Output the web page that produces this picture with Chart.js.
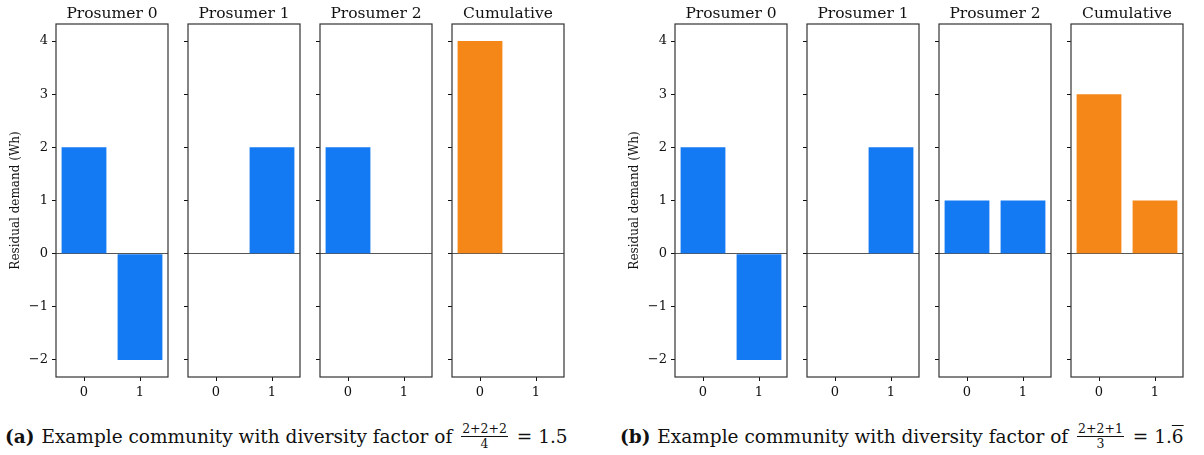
<!DOCTYPE html>
<html>
<head>
<meta charset="utf-8">
<script src="https://cdn.jsdelivr.net/npm/chart.js@4/dist/chart.umd.min.js"></script>
<style>
  body { margin: 0; background: #fff; width: 1204px; height: 455px; position: relative; overflow: hidden; }
  canvas.panel { position: absolute; top: 0; }
  .caption { position: absolute; top: 424px; font-family: "DejaVu Serif", serif; font-size: 18.5px; line-height: 24px; color: #111; white-space: nowrap; }
  .caption b { font-weight: bold; margin-right: 1px; }
  .frac { display: inline-block; vertical-align: middle; text-align: center; font-size: 12.5px; line-height: 13px; margin: 0 3px; position: relative; top: -2px; }
  .frac .num { display: block; border-bottom: 1px solid #111; padding: 0 1px 1px; }
  .frac .den { display: block; }
  .over { text-decoration: overline; }
</style>
</head>
<body>
<div class="caption" style="left:5px"><b>(a)</b> Example community with diversity factor of <span class="frac"><span class="num">2+2+2</span><span class="den">4</span></span> = 1.5</div>
<div class="caption" style="left:620px"><b>(b)</b> Example community with diversity factor of <span class="frac"><span class="num">2+2+1</span><span class="den">3</span></span> = 1.<span class="over">6</span></div>
<script>
/* residual demand per time slot, one array per panel */
const categories = ['0', '1'];
const panelTitles = ['Prosumer 0', 'Prosumer 1', 'Prosumer 2', 'Cumulative'];
const yTicks = [-2, -1, 0, 1, 2, 3, 4];

const aProsumer0 = [2, -2];
const aProsumer1 = [0, 2];
const aProsumer2 = [2, 0];
const aCumulative = [4, 0];

const bProsumer0 = [2, -2];
const bProsumer1 = [0, 2];
const bProsumer2 = [1, 1];
const bCumulative = [3, 1];

const yLabel = 'Residual demand (Wh)';

const BLUE = '#147af3';
const ORANGE = '#f58718';
const SERIF = '"DejaVu Serif", serif';

// layout of the plot boxes, in page pixels
const panelLefts = [[56, 188, 320, 452], [675, 807, 939, 1071]];
const panelW = 112, plotTop = 24, plotBottom = 377, canvasH = 410;

function minusSign(v) { return v < 0 ? '\u2212' + Math.abs(v) : String(v); }

const boxPlugin = {
    id: 'box',
    afterDraw(chart, args, opts) {
        const {ctx, chartArea: a} = chart;
        ctx.save();
        ctx.strokeStyle = '#333';
        ctx.lineWidth = 1.2;
        ctx.strokeRect(a.left, a.top, a.right - a.left, a.bottom - a.top);
        ctx.fillStyle = '#111';
        ctx.font = '15.5px ' + SERIF;
        ctx.textAlign = 'center';
        ctx.textBaseline = 'alphabetic';
        ctx.fillText(opts.text, (a.left + a.right) / 2, a.top - 6);
        ctx.restore();
    }
};

function makePanel(left, values, title, color, first) {
    let axisW = first ? 56 : 40;
    let canvas = document.createElement('canvas');
    canvas.className = 'panel';
    canvas.width = axisW + panelW + 2;
    canvas.height = canvasH;
    canvas.style.left = (left - axisW) + 'px';
    canvas.style.width = canvas.width + 'px';
    canvas.style.height = canvasH + 'px';
    document.body.append(canvas);
    return new Chart(canvas, {
        type: 'bar',
        data: {
            labels: categories,
            datasets: [{
                data: values,
                backgroundColor: color,
                borderWidth: 0,
                barPercentage: 0.8,
                categoryPercentage: 1.0,
            }],
        },
        options: {
            responsive: false,
            animation: false,
            devicePixelRatio: 1,
            layout: { padding: { top: plotTop, right: 2, left: 0, bottom: 0 } },
            scales: {
                x: {
                    grid: { drawOnChartArea: false, drawTicks: true, tickLength: 4, tickColor: '#111', offset: false },
                    border: { display: false },
                    ticks: { color: '#111', padding: 4, font: { family: SERIF, size: 13 }, maxRotation: 0 },
                    afterFit: (s) => { s.height = canvasH - plotBottom; },
                },
                y: {
                    min: -2.32,
                    max: 4.32,
                    afterBuildTicks: (s) => { s.ticks = yTicks.map(v => ({ value: v })); },
                    grid: {
                        drawTicks: true,
                        tickLength: 4,
                        tickColor: '#111',
                        lineWidth: 1,
                        color: (c) => (c.tick && c.tick.value === 0) ? '#555' : 'rgba(0,0,0,0)',
                    },
                    border: { display: false },
                    ticks: {
                        color: '#111',
                        padding: 4,
                        font: { family: SERIF, size: 13 },
                        callback: (v) => first ? minusSign(v) : '',
                    },
                    title: {
                        display: first,
                        text: yLabel,
                        color: '#111',
                        font: { family: SERIF, size: 12 },
                        padding: { top: 9, bottom: 0 },
                    },
                    afterFit: (s) => { s.width = axisW; },
                },
            },
            plugins: {
                legend: { display: false },
                tooltip: { enabled: false },
                box: { text: title },
            },
        },
        plugins: [boxPlugin],
    });
}

const groups = [
    [aProsumer0, aProsumer1, aProsumer2, aCumulative],
    [bProsumer0, bProsumer1, bProsumer2, bCumulative],
];
groups.forEach((panels, g) => {
    panels.forEach((values, i) => {
        let color = (i === 3) ? ORANGE : BLUE;
        makePanel(panelLefts[g][i], values, panelTitles[i], color, i === 0);
    });
});
</script>
</body>
</html>
